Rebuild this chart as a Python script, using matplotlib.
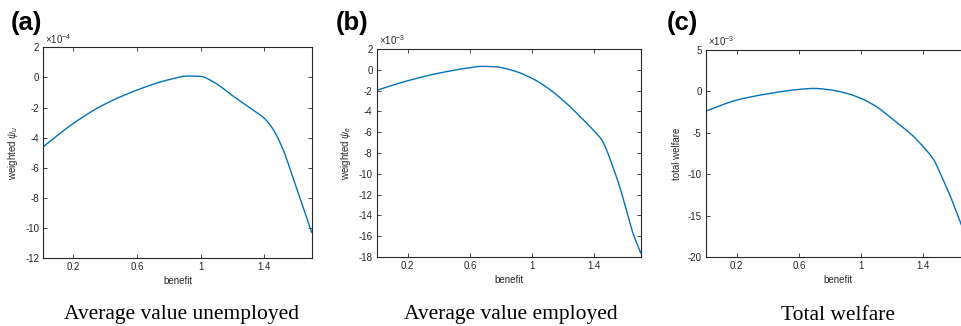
import numpy as np
import matplotlib
matplotlib.use("Agg")
import matplotlib.pyplot as plt
from matplotlib.ticker import FuncFormatter

plt.rcParams['font.family'] = ['Liberation Sans', 'DejaVu Sans']
plt.rcParams['axes.unicode_minus'] = False
plt.rcParams['mathtext.fontset'] = 'custom'
plt.rcParams['mathtext.rm'] = 'Liberation Sans'
plt.rcParams['mathtext.it'] = 'Liberation Sans:italic'

# benefit grid and welfare measures for each panel
benefit_u = [0.01, 0.2, 0.375, 0.6, 0.79, 0.92, 1.0, 1.08, 1.21, 1.33, 1.4, 1.46, 1.52, 1.58, 1.645, 1.7]
psi_u = [-4.6, -3.05, -1.9, -0.84, -0.18, 0.09, 0.07, -0.29, -1.28, -2.17, -2.7, -3.5, -4.8, -6.6, -8.6, -10.3]  # x 1e-4

benefit_e = [0.0, 0.2, 0.39, 0.6, 0.67, 0.755, 0.88, 1.0, 1.096, 1.22, 1.35, 1.395, 1.45, 1.48, 1.52, 1.565, 1.608, 1.65, 1.7]
psi_e = [-1.97, -1.05, -0.35, 0.2, 0.33, 0.3, -0.08, -0.82, -1.69, -3.2, -5.1, -5.8, -6.75, -7.7, -9.3, -11.25, -13.5, -15.7, -17.6]  # x 1e-3

benefit_w = [0.0, 0.2, 0.39, 0.6, 0.695, 0.78, 0.91, 1.0, 1.1, 1.21, 1.34, 1.4, 1.47, 1.51, 1.576, 1.65, 1.7]
welfare = [-2.38, -1.05, -0.32, 0.24, 0.36, 0.24, -0.24, -0.85, -1.85, -3.46, -5.47, -6.68, -8.3, -9.9, -12.7, -16.3, -18.6]  # x 1e-3

xticks = [0.2, 0.6, 1.0, 1.4]
xticklabels = ['0.2', '0.6', '1', '1.4']

W, H = 962, 326
fig = plt.figure(figsize=(W / 100, H / 100), dpi=100)


def box(l, r, t, b):
    return [l / W, 1 - b / H, (r - l) / W, (b - t) / H]


def smooth(x, y, n=400):
    # monotone cubic (PCHIP-style) interpolation for a smooth curve through the points
    x = np.asarray(x, float)
    y = np.asarray(y, float)
    h = np.diff(x)
    d = np.diff(y) / h
    m = np.zeros_like(y)
    for k in range(1, len(x) - 1):
        if d[k - 1] * d[k] > 0:
            w1 = 2 * h[k] + h[k - 1]
            w2 = h[k] + 2 * h[k - 1]
            m[k] = (w1 + w2) / (w1 / d[k - 1] + w2 / d[k])
    m[0] = d[0]
    m[-1] = d[-1]
    xs = np.linspace(x[0], x[-1], n)
    idx = np.clip(np.searchsorted(x, xs) - 1, 0, len(x) - 2)
    t = (xs - x[idx]) / h[idx]
    h00 = 2 * t**3 - 3 * t**2 + 1
    h10 = t**3 - 2 * t**2 + t
    h01 = -2 * t**3 + 3 * t**2
    h11 = t**3 - t**2
    ys = h00 * y[idx] + h10 * h[idx] * m[idx] + h01 * y[idx + 1] + h11 * h[idx] * m[idx + 1]
    return xs, ys


panels = [
    dict(pos=box(43.3, 311.7, 47.3, 258), x=benefit_u, y=psi_u, exp=-4,
         ylim=(-12, 2), yticks=np.linspace(-12, 2, 8), xlim=(0.01, 1.7),
         ylabel=r'weighted $\psi_u$', tag='(a)', tagx=11, cap='Average value unemployed', capx=181),
    dict(pos=box(376.7, 640.7, 49, 257), x=benefit_e, y=psi_e, exp=-3,
         ylim=(-18, 2), yticks=np.linspace(-18, 2, 11), xlim=(0.0, 1.7),
         ylabel=r'weighted $\psi_e$', tag='(b)', tagx=336, cap='Average value employed', capx=511),
    dict(pos=box(705.7, 969.7, 50, 257), x=benefit_w, y=welfare, exp=-3,
         ylim=(-20, 5), yticks=np.linspace(-20, 5, 6), xlim=(0.0, 1.7),
         ylabel='total welfare', tag='(c)', tagx=667, cap='Total welfare', capx=838),
]

tick_col = '#262626'
for p in panels:
    ax = fig.add_axes(p['pos'])
    s = 10.0 ** p['exp']
    xs, ys = smooth(p['x'], p['y'])
    ax.plot(xs, ys * s, color='#0072BD', lw=1.0)
    ax.set_xlim(*p['xlim'])
    ax.set_ylim(p['ylim'][0] * s, p['ylim'][1] * s)
    ax.set_yticks(p['yticks'] * s)
    ax.set_xticks(xticks)
    ax.set_xticklabels(xticklabels)
    ax.yaxis.set_major_formatter(FuncFormatter(lambda v, _, s=s: f'{round(v / s):d}'))
    ax.text(0.008, 1.008, r'$\times$10$^{' + str(p['exp']) + '}$', transform=ax.transAxes,
            fontsize=7, color=tick_col, ha='left', va='bottom')
    ax.tick_params(direction='in', top=True, right=True, length=3, width=0.6,
                   labelsize=7, colors=tick_col, pad=3)
    for sp in ax.spines.values():
        sp.set_linewidth(0.8)
        sp.set_color('#262626')
    ax.set_xlabel('benefit', fontsize=7, color=tick_col, labelpad=3)
    ax.set_ylabel(p['ylabel'], fontsize=7, color=tick_col, labelpad=4)
    fig.text(p['tagx'] / W, 1 - 23 / H, p['tag'], fontsize=18.5, fontweight='bold',
             ha='left', va='center', family=['Liberation Sans'])
    fig.text(p['capx'] / W, 1 - 315 / H, p['cap'], fontsize=15.5, ha='center', va='center',
             family=['Liberation Serif'])

fig.savefig('out.png', dpi=100)
